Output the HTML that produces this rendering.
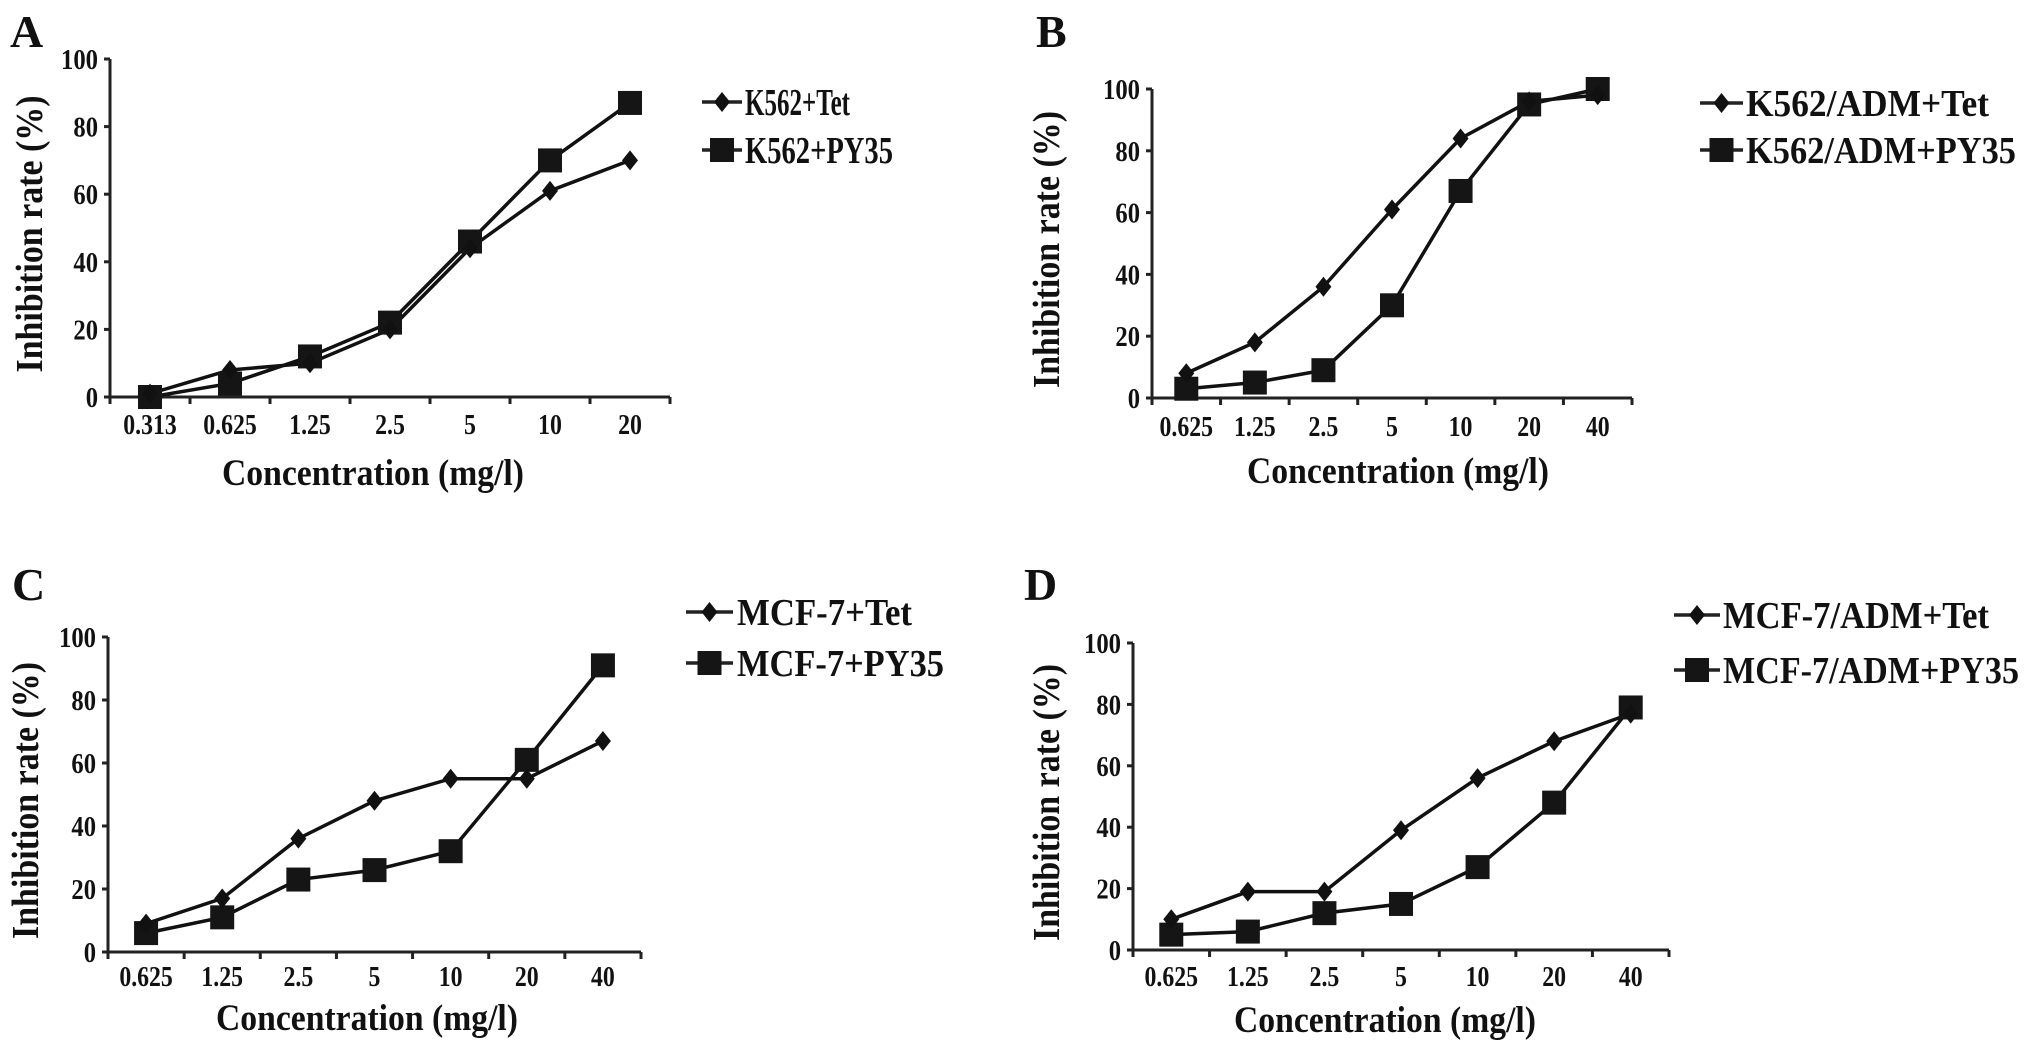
<!DOCTYPE html>
<html><head><meta charset="utf-8"><style>
html,body{margin:0;padding:0;background:#fff;}
svg{display:block;}
text{font-family:"Liberation Serif",serif;font-weight:bold;fill:#111;}
</style></head><body>
<svg id="fig" width="2031" height="1051" viewBox="0 0 2031 1051" xmlns="http://www.w3.org/2000/svg"></svg>
<script>
const catsA = ["0.313","0.625","1.25","2.5","5","10","20"];
const catsB = ["0.625","1.25","2.5","5","10","20","40"];
const yTicks = [0,20,40,60,80,100];
const tetA = [1,8,10,20,44,61,70];
const pyA  = [0,4,12,22,46,70,87];
const tetB = [8,18,36,61,84,96,98];
const pyB  = [3,5,9,30,67,95,100];
const tetC = [9,17,36,48,55,55,67];
const pyC  = [6,11,23,26,32,61,91];
const tetD = [10,19,19,39,56,68,77];
const pyD  = [5,6,12,15,27,48,79];
const legA = ["K562+Tet","K562+PY35"];
const legB = ["K562/ADM+Tet","K562/ADM+PY35"];
const legC = ["MCF-7+Tet","MCF-7+PY35"];
const legD = ["MCF-7/ADM+Tet","MCF-7/ADM+PY35"];

const NS="http://www.w3.org/2000/svg";
const svg=document.getElementById('fig');
function el(tag,attrs,parent){const e=document.createElementNS(NS,tag);for(const k in attrs)e.setAttribute(k,attrs[k]);(parent||svg).appendChild(e);return e;}
function txt(s,attrs,parent){const t=el('text',attrs,parent);t.textContent=s;return t;}
function condense(t,f){const w=t.getComputedTextLength();if(w>0){t.setAttribute('textLength',(w*f).toFixed(1));t.setAttribute('lengthAdjust','spacingAndGlyphs');}}

const panels=[
 {id:'a',letter:'A',lx:10,ly:47,x0:110,x1:670,y0:397,y100:59,cats:catsA,tet:tetA,py:pyA,leg:legA,legLine:[702,742],legText:745,legY:[102,150],legW:[105,148],tickY:434,titleY:485,titleX:373,ytX:29},
 {id:'b',letter:'B',lx:1036,ly:47,x0:1152,x1:1632,y0:398,y100:89,cats:catsB,tet:tetB,py:pyB,leg:legB,legLine:[1700,1743],legText:1746,legY:[103,150],legW:[243,270],tickY:436,titleY:483,titleX:1398,ytX:1046},
 {id:'c',letter:'C',lx:12,ly:600,x0:108,x1:641,y0:952,y100:637,cats:catsB,tet:tetC,py:pyC,leg:legC,legLine:[686,733],legText:737,legY:[612,663],legW:[175,207],tickY:986,titleY:1030,titleX:367,ytX:25},
 {id:'d',letter:'D',lx:1024,ly:600,x0:1133,x1:1669,y0:950,y100:643,cats:catsB,tet:tetD,py:pyD,leg:legD,legLine:[1674,1720],legText:1723,legY:[615,670],legW:[266,296],tickY:986,titleY:1032,titleX:1385,ytX:1046}
];

function diamond(g,x,y,name){
  const p=el('polygon',{points:`${x},${y-10} ${x+8},${y} ${x},${y+10} ${x-8},${y}`,fill:'#111'},g);
  
  
  return p;
}
function square(g,x,y,name){
  const r=el('rect',{x:x-12,y:y-12,width:24,height:24,fill:'#151515'},g);
  
  
  return r;
}

panels.forEach(P=>{
  const g=el('g',{});
  
  
  const band=(P.x1-P.x0)/P.cats.length;
  const xs=i=>P.x0+band*(i+0.5);
  const ys=v=>P.y0-(v/100)*(P.y0-P.y100);
  const lt=txt(P.letter,{x:P.lx,y:P.ly,'font-size':46},g);
  
  
  const ya=el('line',{x1:P.x0,y1:P.y100,x2:P.x0,y2:P.y0,stroke:'#222','stroke-width':3},g);
  
  
  const xa=el('line',{x1:P.x0,y1:P.y0,x2:P.x1,y2:P.y0,stroke:'#222','stroke-width':3},g);
  
  
  yTicks.forEach(v=>{
    el('line',{x1:P.x0-6,y1:ys(v),x2:P.x0,y2:ys(v),stroke:'#222','stroke-width':3},g);
    const t=txt(String(v),{x:P.x0-12,y:ys(v)+10,'font-size':29,'text-anchor':'end'},g);
    
    
    condense(t,0.85);
  });
  for(let i=0;i<=P.cats.length;i++){
    el('line',{x1:P.x0+band*i,y1:P.y0,x2:P.x0+band*i,y2:P.y0+7,stroke:'#222','stroke-width':3},g);
  }
  P.cats.forEach((c,i)=>{
    const t=txt(c,{x:xs(i),y:P.tickY,'font-size':28,'text-anchor':'middle'},g);
    
    
    condense(t,0.85);
  });
  const xt=txt('Concentration (mg/l)',{x:P.titleX,y:P.titleY,'font-size':37,'text-anchor':'middle',textLength:302,lengthAdjust:'spacingAndGlyphs'},g);
  
  
  const yc=(P.y0+P.y100)/2;
  const yt=txt('Inhibition rate (%)',{x:0,y:0,'font-size':38,'text-anchor':'middle',textLength:277,lengthAdjust:'spacingAndGlyphs',transform:`translate(${P.ytX+13},${yc+6}) rotate(-90)`},g);
  
  
  const ptsT=P.tet.map((v,i)=>xs(i)+','+ys(v)).join(' ');
  const ptsP=P.py.map((v,i)=>xs(i)+','+ys(v)).join(' ');
  const l1=el('polyline',{points:ptsT,fill:'none',stroke:'#111','stroke-width':3.5},g);
  
  
  const l2=el('polyline',{points:ptsP,fill:'none',stroke:'#111','stroke-width':3.5},g);
  
  
  P.py.forEach((v,i)=>square(g,xs(i),ys(v),'py35-point'));
  P.tet.forEach((v,i)=>diamond(g,xs(i),ys(v),'tet-point'));
  [0,1].forEach(k=>{
    const ly=P.legY[k];
    const lg=el('g',{},g);
    
    
    el('line',{x1:P.legLine[0],y1:ly,x2:P.legLine[1],y2:ly,stroke:'#222','stroke-width':3.5},lg);
    const mx=(P.legLine[0]+P.legLine[1])/2;
    if(k===0) diamond(lg,mx,ly,'legend-diamond'); else square(lg,mx,ly,'legend-square');
    txt(P.leg[k],{x:P.legText,y:ly+13,'font-size':38,textLength:P.legW[k],lengthAdjust:'spacingAndGlyphs'},lg);
  });
});
</script>
</body></html>
